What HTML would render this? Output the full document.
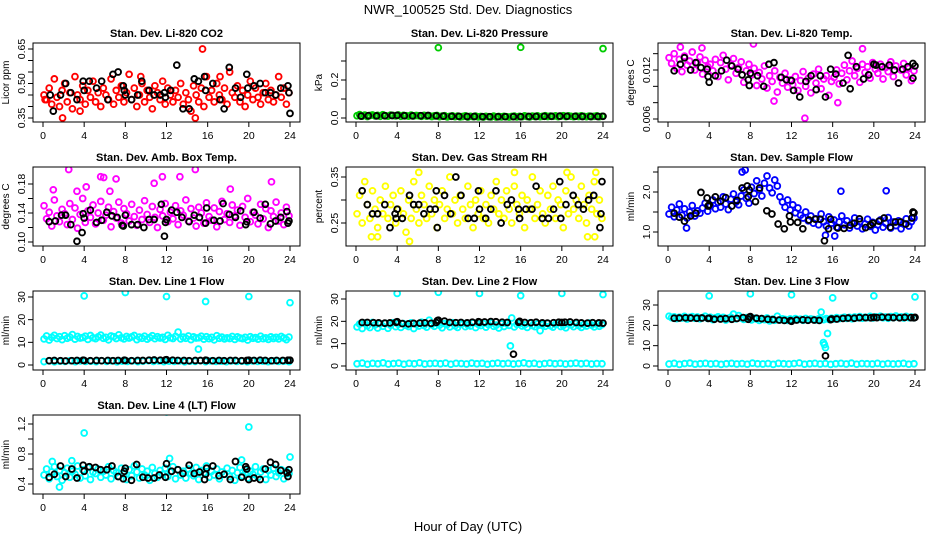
<!DOCTYPE html>
<html><head><meta charset="utf-8"><style>
html,body{margin:0;padding:0;background:#fff;}
svg{display:block;font-family:"Liberation Sans",Arial,sans-serif;}
</style></head><body>
<svg id="chart" width="936" height="540" viewBox="0 0 936 540">
<rect width="936" height="540" fill="#fff"/>
<text x="468" y="14" font-size="13" text-anchor="middle">NWR_100525  Std. Dev. Diagnostics</text>
<text x="468" y="531" font-size="13" text-anchor="middle">Hour of Day (UTC)</text>
</svg>
<script>
// ---------- data ----------
const xTicks = [0,4,8,12,16,20,24];
// CO2 (red)
const co2Vals = [0.45,0.43,0.48,0.41,0.52,0.44,0.40,0.47,0.50,0.42,0.46,0.39,0.53,0.45,0.43,0.49,0.41,0.47,0.44,0.51,0.42,0.46,0.40,0.48,0.45,0.43,0.52,0.41,0.47,0.44,0.49,0.42,0.46,0.54,0.43,0.48,0.40,0.45,0.50,0.42,0.47,0.44,0.39,0.49,0.46,0.43,0.51,0.41,0.48,0.45,0.42,0.47,0.44,0.50,0.41,0.46,0.43,0.38,0.49,0.45,0.42,0.48,0.40,0.53,0.44,0.47,0.42,0.50,0.45,0.43,0.48,0.41,0.55,0.46,0.44,0.49,0.42,0.47,0.40,0.45,0.51,0.43,0.48,0.44,0.41,0.46,0.50,0.43,0.47,0.42,0.45,0.53,0.44,0.48,0.41,0.46];
const co2OutX = [15.5,1.9,14.8,9.5,17.2,0.2,3.6];
const co2OutY = [0.65,0.35,0.35,0.53,0.53,0.43,0.38];
const co2BlkX = [0.7,1.0,1.7,2.2,2.7,3.3,3.9,4.0,4.5,5.2,5.7,6.3,6.8,7.3,7.8,7.9,8.0,8.6,9.2,9.6,10.3,10.8,11.4,11.8,11.9,12.4,13.0,13.6,14.2,14.7,15.1,15.7,15.8,16.5,17.2,17.6,18.1,18.7,19.2,19.8,19.9,20.5,21.1,21.6,22.1,22.6,23.1,23.8,23.9,24.0];
const co2BlkY = [0.45,0.38,0.45,0.50,0.46,0.43,0.51,0.47,0.51,0.48,0.51,0.43,0.54,0.55,0.49,0.47,0.45,0.43,0.45,0.51,0.47,0.45,0.45,0.46,0.44,0.47,0.58,0.39,0.39,0.52,0.51,0.53,0.47,0.50,0.43,0.39,0.57,0.48,0.44,0.54,0.48,0.49,0.50,0.46,0.46,0.45,0.48,0.49,0.46,0.37];
// Pressure (green)
const presVals = [0.012,0.018,0.010,0.015,0.008,0.013,0.016,0.011,0.014,0.009,0.017,0.012,0.010,0.015,0.013,0.011,0.016,0.009,0.014,0.012,0.010,0.015,0.011,0.013,0.012,0.009,0.014,0.010,0.012,0.008,0.011,0.013,0.007,0.010,0.012,0.006,0.009,0.011,0.007,0.010,0.006,0.008,0.011,0.005,0.009,0.007,0.010,0.006,0.008,0.005,0.009,0.007,0.006,0.010,0.005,0.008,0.006,0.009,0.007,0.005,0.008,0.010,0.006,0.009,0.007,0.011,0.008,0.006,0.010,0.008,0.011,0.007,0.009,0.012,0.008,0.010,0.009,0.011,0.007,0.010,0.012,0.008,0.011,0.009,0.007,0.010,0.008,0.011,0.009,0.007,0.010,0.008,0.009,0.011,0.007,0.009];
const presOutX = [8.0,16.0,24.0];
const presOutY = [0.37,0.372,0.365];
const presBlkX = [0.5,1.2,2.0,2.8,3.5,4.0,4.7,5.5,6.3,7.0,7.8,8.5,9.3,10.0,10.8,11.5,12.3,13.0,13.8,14.5,15.3,16.0,16.8,17.5,18.3,19.0,19.8,20.5,21.3,22.0,22.8,23.5,24.0];
const presBlkY = [0.010,0.012,0.011,0.012,0.013,0.014,0.012,0.011,0.012,0.013,0.011,0.010,0.009,0.009,0.008,0.008,0.007,0.007,0.007,0.007,0.007,0.007,0.008,0.008,0.009,0.009,0.010,0.009,0.009,0.008,0.008,0.008,0.009];
// Li-820 temp (magenta)
const tempVals = [0.0135,0.0128,0.0140,0.0122,0.0133,0.0118,0.0137,0.0126,0.0131,0.0142,0.0120,0.0129,0.0136,0.0115,0.0132,0.0124,0.0127,0.0119,0.0133,0.0112,0.0129,0.0138,0.0121,0.0108,0.0126,0.0134,0.0116,0.0123,0.0130,0.0105,0.0119,0.0127,0.0114,0.0122,0.0101,0.0117,0.0109,0.0125,0.0098,0.0113,0.0106,0.0119,0.0093,0.0111,0.0104,0.0116,0.0099,0.0108,0.0102,0.0112,0.0095,0.0107,0.0118,0.0100,0.0110,0.0092,0.0115,0.0104,0.0121,0.0097,0.0109,0.0113,0.0089,0.0106,0.0111,0.0120,0.0103,0.0116,0.0126,0.0108,0.0119,0.0131,0.0113,0.0122,0.0105,0.0127,0.0117,0.0124,0.0110,0.0129,0.0121,0.0116,0.0127,0.0109,0.0123,0.0118,0.0130,0.0112,0.0125,0.0104,0.0120,0.0128,0.0114,0.0122,0.0107,0.0119];
const tempOutX = [8.3,13.3,1.2,3.3,18.9,10.3,16.5];
const tempOutY = [0.0152,0.0061,0.0148,0.0147,0.0146,0.0082,0.0080];
const tempBlkX = [0.6,1.2,1.6,2.2,2.7,3.2,3.8,3.9,4.0,4.6,5.2,5.7,6.2,6.8,7.2,7.8,7.9,8.0,8.7,9.3,9.8,10.3,11.0,11.5,12.0,12.2,12.8,13.4,13.9,14.4,14.8,15.3,15.8,16.3,17.0,17.5,17.7,18.3,19.0,19.5,20.0,20.2,20.8,21.5,22.0,22.4,22.8,23.3,23.8,23.8,24.0];
const tempBlkY = [0.0119,0.0127,0.0135,0.0120,0.0129,0.0123,0.0121,0.0112,0.0105,0.0113,0.0119,0.0132,0.0125,0.0121,0.0114,0.0108,0.0101,0.0116,0.0113,0.0100,0.0127,0.0129,0.0111,0.0108,0.0107,0.0095,0.0087,0.0106,0.0113,0.0096,0.0113,0.0087,0.0121,0.0115,0.0104,0.0138,0.0097,0.0124,0.0109,0.0114,0.0127,0.0126,0.0124,0.0126,0.0120,0.0104,0.0121,0.0124,0.0110,0.0128,0.0125];
// Amb box temp (magenta)
const ambVals = [0.150,0.132,0.141,0.122,0.158,0.136,0.128,0.145,0.139,0.124,0.153,0.131,0.147,0.119,0.138,0.160,0.127,0.143,0.134,0.151,0.125,0.140,0.156,0.130,0.137,0.148,0.121,0.142,0.133,0.155,0.126,0.146,0.139,0.129,0.152,0.135,0.123,0.144,0.131,0.157,0.138,0.127,0.149,0.134,0.120,0.145,0.136,0.153,0.128,0.141,0.132,0.150,0.124,0.143,0.137,0.158,0.129,0.146,0.133,0.122,0.148,0.140,0.126,0.154,0.135,0.130,0.147,0.121,0.142,0.156,0.131,0.139,0.127,0.151,0.136,0.144,0.123,0.149,0.134,0.160,0.128,0.141,0.137,0.125,0.152,0.132,0.146,0.120,0.143,0.135,0.155,0.129,0.140,0.124,0.148,0.136];
const ambOutX = [2.5,5.6,5.9,7.1,11.6,13.3,14.8,18.2,22.2,1.0,3.3,6.5,10.8,4.2];
const ambOutY = [0.200,0.190,0.189,0.187,0.190,0.190,0.200,0.173,0.183,0.172,0.170,0.170,0.181,0.176];
const ambBlkX = [0.6,1.2,1.8,2.2,2.7,3.3,3.8,3.9,4.0,4.6,5.2,5.7,6.2,6.7,7.2,7.7,7.8,8.0,8.6,9.2,9.8,10.3,10.8,11.5,11.8,11.9,12.0,12.5,13.0,13.5,14.2,14.7,15.2,15.8,15.9,16.6,17.2,17.5,18.1,18.7,19.2,19.7,19.8,20.5,21.1,21.6,22.1,22.6,23.1,23.7,23.8,23.9];
const ambBlkY = [0.128,0.129,0.137,0.137,0.124,0.101,0.113,0.139,0.133,0.144,0.127,0.130,0.141,0.136,0.134,0.123,0.122,0.137,0.124,0.124,0.120,0.131,0.131,0.152,0.108,0.127,0.131,0.144,0.141,0.134,0.128,0.137,0.134,0.126,0.147,0.130,0.129,0.153,0.138,0.134,0.143,0.124,0.128,0.141,0.133,0.152,0.125,0.129,0.134,0.142,0.126,0.129];
// Gas stream RH (yellow)
const rhVals = [0.27,0.31,0.25,0.34,0.29,0.26,0.32,0.28,0.24,0.30,0.27,0.33,0.26,0.29,0.31,0.25,0.28,0.32,0.27,0.23,0.30,0.26,0.34,0.28,0.25,0.31,0.29,0.26,0.33,0.27,0.30,0.24,0.29,0.32,0.26,0.28,0.35,0.27,0.30,0.25,0.31,0.28,0.26,0.33,0.29,0.24,0.30,0.27,0.32,0.26,0.29,0.25,0.31,0.28,0.34,0.27,0.30,0.26,0.32,0.28,0.25,0.33,0.29,0.27,0.31,0.24,0.30,0.28,0.35,0.26,0.29,0.32,0.27,0.25,0.31,0.28,0.33,0.26,0.30,0.29,0.24,0.32,0.27,0.35,0.28,0.30,0.26,0.33,0.29,0.25,0.31,0.28,0.34,0.27,0.30,0.26];
const rhOutX = [5.2,1.5,2.1,15.4,20.5,23.3,6.1,22.5,23.2];
const rhOutY = [0.21,0.22,0.22,0.36,0.36,0.36,0.36,0.22,0.22];
const rhBlkX = [0.6,1.1,1.6,2.1,2.8,3.3,3.8,3.9,4.0,4.5,5.2,5.6,6.1,6.6,7.2,7.7,7.8,7.9,8.6,9.2,9.7,10.2,10.9,11.5,11.9,12.0,12.6,13.1,13.6,14.1,14.7,15.1,15.8,15.9,16.5,17.1,17.5,18.1,18.7,19.2,19.8,19.9,20.4,21.1,21.6,22.1,22.6,23.1,23.7,23.8,23.9];
const rhBlkY = [0.32,0.29,0.27,0.27,0.29,0.24,0.27,0.26,0.28,0.26,0.31,0.29,0.29,0.27,0.28,0.28,0.32,0.24,0.31,0.27,0.35,0.31,0.26,0.26,0.32,0.28,0.26,0.28,0.32,0.25,0.29,0.30,0.28,0.26,0.28,0.28,0.33,0.26,0.26,0.28,0.34,0.26,0.29,0.31,0.29,0.28,0.30,0.31,0.24,0.27,0.34];
// Sample flow (blue)
const flowVals = [1.45,1.62,1.38,1.55,1.70,1.42,1.58,1.35,1.50,1.66,1.40,1.53,1.47,1.60,1.72,1.52,1.65,1.80,1.58,1.74,1.62,1.88,1.70,1.56,1.82,1.95,1.75,1.68,1.90,2.05,1.84,1.72,2.12,1.96,2.28,2.05,1.90,2.22,2.40,2.10,1.98,2.30,2.15,1.88,1.75,1.62,1.80,1.55,1.68,1.48,1.60,1.42,1.35,1.50,1.28,1.40,1.22,1.33,1.18,1.45,1.26,1.15,1.38,1.22,1.30,1.12,1.25,1.40,1.18,1.28,1.10,1.22,1.35,1.15,1.26,1.08,1.20,1.32,1.14,1.24,1.05,1.18,1.30,1.12,1.22,1.36,1.10,1.25,1.16,1.28,1.08,1.20,1.33,1.15,1.26,1.35];
const flowOutX = [16.8,21.2,7.5,7.2,1.8,15.3,16.2];
const flowOutY = [2.02,2.03,2.55,2.50,1.10,0.92,0.90];
const flowBlkX = [0.6,1.1,1.6,2.2,2.7,3.2,3.8,3.9,4.0,4.6,5.1,5.6,6.2,6.7,7.2,7.7,7.8,7.9,8.5,8.9,9.6,10.1,10.7,11.3,11.8,11.9,12.6,13.1,13.7,14.3,14.8,15.2,15.6,15.8,16.5,17.1,17.7,18.1,18.6,19.2,19.7,19.9,20.5,21.0,21.6,22.1,22.6,23.1,23.7,23.8,23.9];
const flowBlkY = [1.47,1.37,1.27,1.40,1.47,1.99,1.85,1.65,1.68,1.88,1.77,1.86,1.65,1.79,2.10,2.15,1.88,2.05,1.76,2.10,1.53,1.45,1.20,1.08,1.40,1.25,1.24,1.08,1.30,1.32,1.32,0.78,1.08,1.32,1.10,1.09,1.17,1.22,1.33,1.11,1.18,1.22,1.27,1.35,1.12,1.25,1.25,1.20,1.35,1.50,1.48];
// Line 1 flow (cyan)
const l1Upper = [11.5,12.8,11.0,12.2,13.1,11.7,12.5,11.2,12.9,11.8,12.3,13.4,11.4,12.6,11.9,12.1,12.7,11.3,13.0,12.0,11.6,12.4,13.2,11.8,12.2,11.1,12.8,12.5,11.7,13.3,12.0,11.5,12.6,11.9,12.4,13.0,11.2,12.3,11.8,12.7,11.4,12.1,12.9,11.6,12.5,11.9,12.2,11.3,13.1,12.0,11.7,12.6,14.5,11.5,12.3,11.8,12.8,11.2,12.4,11.9,12.0,12.7,11.4,12.5,11.6,12.2,11.1,12.9,11.8,12.3,11.5,12.0,11.7,12.6,11.3,12.4,11.9,11.6,12.2,11.0,12.5,11.8,12.1,11.4,12.7,11.6,12.0,11.3,12.4,11.7,12.2,11.5,12.6,11.9,11.2,12.3];
const l1Lower = [1.5,1.8,1.4,1.7,1.6,1.9,1.5,1.8,1.6,1.7,1.5,1.9,1.6,1.8,1.4,1.7,1.6,1.8,1.5,1.7,1.9,1.6,1.8,1.5,1.7,1.6,1.8,1.4,1.7,1.6,1.9,1.5,1.8,1.6,1.7,1.5,1.8,1.6,1.7,1.4,1.8,1.6,1.7,1.5,1.8,1.6,1.7,1.5];
const l1OutX = [4.0,8.0,12.0,15.8,20.0,24.0,15.1];
const l1OutY = [30.5,32.0,30.2,28.0,30.2,27.5,7.0];
const l1BlkX = [0.6,1.1,1.7,2.2,2.8,3.3,3.9,4.0,4.6,5.2,5.7,6.3,6.8,7.3,7.9,8.0,8.6,9.2,9.7,10.3,10.8,11.4,11.9,12.0,12.6,13.1,13.7,14.2,14.8,15.3,15.8,15.9,16.5,17.1,17.6,18.2,18.7,19.3,19.8,20.0,20.5,21.1,21.6,22.2,22.7,23.3,23.8,24.0];
const l1BlkY = [1.9,2.0,1.9,1.8,1.9,2.0,2.1,2.0,1.9,2.0,1.9,2.0,1.9,2.0,2.1,2.0,1.9,2.0,2.0,2.1,2.2,2.1,2.2,2.3,2.1,2.0,2.0,1.9,2.0,2.0,2.1,2.0,1.9,2.0,1.9,2.0,2.0,1.9,2.0,2.1,2.0,2.1,2.0,1.9,2.0,2.0,2.1,2.1];
// Line 2 flow (cyan)
const l2Upper = [17.5,18.8,16.8,19.2,18.0,17.2,19.5,18.4,17.0,18.9,17.8,19.1,16.9,18.3,19.4,17.6,18.7,17.3,19.0,18.2,17.7,19.3,16.8,18.6,17.9,19.6,18.1,17.4,20.5,18.5,17.8,19.2,18.3,17.1,19.0,18.6,17.5,19.4,18.0,17.3,18.8,19.1,17.6,18.4,17.9,19.3,17.2,18.7,18.1,19.0,17.4,18.5,19.2,17.8,18.3,17.0,18.9,17.7,19.1,18.2,21.5,17.5,18.6,19.0,17.9,18.4,17.3,19.2,18.1,17.6,18.8,15.8,18.5,17.8,19.1,18.0,17.4,18.7,19.3,17.7,18.2,17.1,18.9,18.4,17.6,19.0,18.1,17.3,18.6,17.9,19.2,18.3,17.5,18.8,17.8,18.5];
const l2Lower = [1.0,1.3,0.8,1.2,1.0,1.4,0.9,1.1,1.3,0.8,1.2,1.0,1.4,0.9,1.1,1.2,1.0,1.3,0.8,1.2,1.1,0.9,1.3,1.0,1.2,0.8,1.1,1.3,1.0,1.2,0.9,1.1,1.4,1.0,1.2,0.8,1.1,1.3,1.0,1.2,0.9,1.1,1.3,1.0,1.2,0.9,1.1,1.0];
const l2OutX = [4.0,8.0,12.0,16.0,20.0,24.0,15.0];
const l2OutY = [32.5,33.0,32.5,31.5,32.5,32.0,9.0];
const l2BlkX = [0.6,1.1,1.7,2.2,2.8,3.3,3.9,4.0,4.5,5.1,5.6,6.2,6.7,7.3,7.8,7.9,8.0,8.6,9.1,9.7,10.2,10.8,11.3,11.9,12.0,12.5,13.1,13.6,14.2,14.7,15.3,15.8,15.9,16.4,17.0,17.5,18.1,18.6,19.2,19.7,20.0,20.3,20.8,21.4,21.9,22.5,23.0,23.6,24.0];
const l2BlkY = [19.5,19.5,19.4,19.3,19.2,19.3,19.6,19.8,19.0,18.9,19.1,19.2,19.3,19.1,19.5,20.3,20.5,20.1,19.5,19.4,19.5,19.3,19.6,19.8,19.6,19.7,19.9,19.8,19.6,19.5,5.3,19.6,20.0,19.5,19.4,19.6,19.3,19.2,19.4,19.6,19.5,19.6,19.7,19.5,19.3,19.2,19.4,19.3,19.2];
// Line 3 flow (cyan)
const l3Upper = [24.5,23.8,24.2,23.3,24.0,23.6,24.4,23.1,23.9,24.3,23.5,24.1,23.2,23.8,24.5,23.4,24.0,22.8,23.7,24.2,23.3,23.9,22.6,23.5,24.0,25.5,23.2,24.8,23.6,22.9,23.8,23.4,22.7,23.5,23.1,22.4,23.3,22.8,23.6,22.2,23.0,22.5,24.5,22.7,23.2,22.9,22.4,23.1,22.6,23.3,22.8,23.0,22.5,23.4,22.7,23.1,22.9,22.6,23.2,26.5,22.8,23.3,22.9,23.5,23.1,23.8,23.3,23.6,24.0,23.4,23.9,23.2,24.1,23.7,24.3,23.5,24.0,23.8,24.4,23.6,24.2,23.9,24.5,23.7,24.1,23.5,24.3,23.8,24.6,23.9,24.2,23.6,24.4,23.8,24.1,23.7];
const l3Lower = [1.0,1.3,0.8,1.2,1.4,0.9,1.1,1.3,1.0,1.2,0.8,1.1,1.3,1.0,1.2,0.9,1.4,1.1,1.0,1.2,0.8,1.3,1.1,1.0,1.2,1.5,0.9,1.1,1.3,1.0,1.2,0.8,1.1,1.3,1.0,1.4,0.9,1.2,1.1,1.0,1.3,0.9,1.2,1.0,1.1,1.3,0.9,1.1];
const l3OutX = [4.0,8.0,12.0,16.0,20.0,24.0,15.1,15.2,15.3,15.5];
const l3OutY = [34.5,35.5,35.0,33.5,34.5,34.0,11.5,10.5,9.0,16.0];
const l3BlkX = [0.6,1.1,1.7,2.2,2.8,3.3,3.9,4.0,4.5,5.1,5.6,6.2,6.7,7.3,7.8,7.9,8.0,8.6,9.1,9.7,10.2,10.8,11.3,11.9,12.0,12.5,13.1,13.6,14.2,14.7,15.3,15.8,15.9,16.4,17.0,17.5,18.1,18.6,19.2,19.7,20.0,20.3,20.8,21.4,21.9,22.5,23.0,23.6,23.9,24.0];
const l3BlkY = [23.5,23.6,23.7,23.6,23.5,23.6,23.4,23.5,23.0,23.1,23.3,23.0,23.4,23.8,23.0,24.0,24.3,23.5,23.3,23.0,22.8,22.6,22.4,22.3,22.0,22.6,22.7,22.5,22.6,22.4,5.0,22.8,23.1,23.1,23.4,23.6,23.5,23.8,23.8,23.7,23.9,23.8,24.0,23.9,23.8,23.7,23.9,23.8,23.7,23.9];
// Line 4 (LT) flow (cyan)
const l4Vals = [0.52,0.60,0.47,0.56,0.63,0.50,0.58,0.45,0.55,0.61,0.49,0.57,0.53,0.64,0.48,0.59,0.51,0.62,0.46,0.56,0.54,0.60,0.49,0.57,0.52,0.63,0.47,0.58,0.55,0.50,0.61,0.53,0.46,0.59,0.51,0.64,0.56,0.48,0.60,0.52,0.57,0.45,0.62,0.54,0.49,0.58,0.53,0.61,0.50,0.56,0.63,0.47,0.59,0.52,0.57,0.48,0.60,0.54,0.51,0.62,0.46,0.58,0.55,0.64,0.49,0.57,0.52,0.60,0.47,0.56,0.53,0.61,0.50,0.58,0.45,0.55,0.62,0.51,0.59,0.48,0.57,0.53,0.63,0.49,0.56,0.60,0.46,0.58,0.52,0.61,0.50,0.55,0.59,0.47,0.57,0.54];
const l4OutX = [4.0,12.0,20.0,24.0,1.6,0.9,2.8,12.3,19.3];
const l4OutY = [1.08,1.36,1.16,0.76,0.36,0.70,0.71,0.74,0.72];
const l4BlkX = [0.6,1.1,1.7,2.2,2.8,3.3,3.9,4.0,4.5,5.1,5.6,6.2,6.7,7.3,7.8,7.9,8.0,8.6,9.1,9.7,10.2,10.8,11.3,11.9,12.0,12.5,13.1,13.6,14.2,14.7,15.2,15.7,15.8,15.9,16.5,17.1,17.6,18.2,18.7,19.3,19.7,19.8,20.0,20.5,21.1,21.6,22.1,22.6,23.1,23.7,23.8,23.9];
const l4BlkY = [0.49,0.53,0.64,0.50,0.60,0.48,0.65,0.57,0.63,0.62,0.59,0.59,0.64,0.50,0.47,0.57,0.61,0.45,0.66,0.49,0.48,0.48,0.52,0.49,0.67,0.57,0.59,0.54,0.65,0.54,0.56,0.46,0.53,0.61,0.64,0.51,0.53,0.46,0.70,0.49,0.63,0.60,0.46,0.48,0.46,0.60,0.69,0.66,0.58,0.55,0.50,0.59];

// ---------- layout ----------
const svg = document.getElementById('chart');
const NS = 'http://www.w3.org/2000/svg';
const colX0 = [43, 356, 668];
const rowTop = [43, 167, 291, 415];
const plotH = 79;
const hourPx = 247/24;

function mk(tag, attrs, parent){
  const e = document.createElementNS(NS, tag);
  for (const k in attrs) e.setAttribute(k, attrs[k]);
  (parent||svg).appendChild(e);
  return e;
}

function evenX(n){ const a=[]; for(let i=0;i<n;i++) a.push(0.1 + i*23.8/(n-1)); return a; }

function panel(p){
  const x0 = colX0[p.col], top = rowTop[p.row], bot = top + plotH;
  const left = x0 - 10, right = x0 + 257;
  const xs = h => x0 + h*hourPx;
  const ys = v => p.p1 + (v - p.v1)*(p.p2 - p.p1)/(p.v2 - p.v1);
  const g = mk('g', {});
  
  
  const t = mk('text', {x:(left+right)/2, y: top-6, 'font-size':11, 'font-weight':'bold', 'text-anchor':'middle'}, g);
  
  
  t.textContent = p.title;
  const yl = mk('text', {transform:`translate(${left-24},${(top+bot)/2}) rotate(-90)`, 'font-size':10, 'text-anchor':'middle'}, g);
  
  
  yl.textContent = p.ylab;
  xTicks.forEach(h => {
    mk('line', {x1:xs(h), x2:xs(h), y1:bot, y2:bot+5, stroke:'#000', 'stroke-width':1}, g);
    const tl = mk('text', {x:xs(h), y:bot+17, 'font-size':10.5, 'text-anchor':'middle'}, g);
    
    
    tl.textContent = h;
  });
  p.ticks.forEach((v, i) => {
    const y = ys(v);
    mk('line', {x1:left-5, x2:left, y1:y, y2:y, stroke:'#000', 'stroke-width':1}, g);
    if (p.labels[i]) {
      const tl = mk('text', {transform:`translate(${left-8},${y}) rotate(-90)`, 'font-size':10.5, 'text-anchor':'middle'}, g);
      
      
      tl.textContent = p.labels[i];
    }
  });
  const clip = 'clip-' + p.name;
  const cp = mk('clipPath', {id: clip}, g);
  mk('rect', {x:left, y:top, width:right-left, height:plotH}, cp);
  const pg = mk('g', {'clip-path':`url(#${clip})`}, g);
  p.series.forEach(s => {
    const sx = s.xs || evenX(s.ys.length);
    const n = Math.min(sx.length, s.ys.length);
    for (let i=0;i<n;i++){
      const c = mk('circle', {cx:xs(sx[i]), cy:ys(s.ys[i]), r:2.9, fill:'none', stroke:s.color, 'stroke-width':1.9}, pg);
      
      
    }
  });
  const box = mk('rect', {x:left, y:top, width:right-left, height:plotH, fill:'none', stroke:'#000', 'stroke-width':1}, g);
  
  
}

panel({name:'co2', col:0,row:0,title:'Stan. Dev. Li-820 CO2', ylab:'Licor ppm', v1:0.35,p1:118,v2:0.65,p2:49,
  ticks:[0.35,0.40,0.45,0.50,0.55,0.60,0.65], labels:['0.35','','','0.50','','','0.65'],
  series:[{color:'#ff0000', ys:co2Vals},{color:'#ff0000', xs:co2OutX, ys:co2OutY},{color:'#000', xs:co2BlkX, ys:co2BlkY}]});
panel({name:'pressure', col:1,row:0,title:'Stan. Dev. Li-820 Pressure', ylab:'kPa', v1:0,p1:118,v2:0.2,p2:80,
  ticks:[0,0.1,0.2,0.3], labels:['0.0','','0.2',''],
  series:[{color:'#00cc00', ys:presVals},{color:'#00cc00', xs:presOutX, ys:presOutY},{color:'#000', xs:presBlkX, ys:presBlkY}]});
panel({name:'li820-temp', col:2,row:0,title:'Stan. Dev. Li-820 Temp.', ylab:'degrees C', v1:0.006,p1:119,v2:0.012,p2:70,
  ticks:[0.006,0.008,0.010,0.012,0.014], labels:['0.006','','','0.012',''],
  series:[{color:'#ff00ff', ys:tempVals},{color:'#ff00ff', xs:tempOutX, ys:tempOutY},{color:'#000', xs:tempBlkX, ys:tempBlkY}]});
panel({name:'amb-box-temp', col:0,row:1,title:'Stan. Dev. Amb. Box Temp.', ylab:'degrees C', v1:0.10,p1:242,v2:0.18,p2:184,
  ticks:[0.10,0.12,0.14,0.16,0.18], labels:['0.10','','0.14','','0.18'],
  series:[{color:'#ff00ff', ys:ambVals},{color:'#ff00ff', xs:ambOutX, ys:ambOutY},{color:'#000', xs:ambBlkX, ys:ambBlkY}]});
panel({name:'gas-rh', col:1,row:1,title:'Stan. Dev. Gas Stream RH', ylab:'percent', v1:0.25,p1:223,v2:0.35,p2:177,
  ticks:[0.25,0.30,0.35], labels:['0.25','','0.35'],
  series:[{color:'#ffff00', ys:rhVals},{color:'#ffff00', xs:rhOutX, ys:rhOutY},{color:'#000', xs:rhBlkX, ys:rhBlkY}]});
panel({name:'sample-flow', col:2,row:1,title:'Stan. Dev. Sample Flow', ylab:'ml/min', v1:1.0,p1:232,v2:2.0,p2:192,
  ticks:[1.0,1.5,2.0,2.5], labels:['1.0','','2.0',''],
  series:[{color:'#0000ff', ys:flowVals},{color:'#0000ff', xs:flowOutX, ys:flowOutY},{color:'#000', xs:flowBlkX, ys:flowBlkY}]});
panel({name:'line1-flow', col:0,row:2,title:'Stan. Dev. Line 1 Flow', ylab:'ml/min', v1:0,p1:365,v2:30,p2:297,
  ticks:[0,10,20,30], labels:['0','10','20','30'],
  series:[{color:'#00ffff', ys:l1Upper},{color:'#00ffff', ys:l1Lower},{color:'#00ffff', xs:l1OutX, ys:l1OutY},{color:'#000', xs:l1BlkX, ys:l1BlkY}]});
panel({name:'line2-flow', col:1,row:2,title:'Stan. Dev. Line 2 Flow', ylab:'ml/min', v1:0,p1:366,v2:30,p2:299,
  ticks:[0,10,20,30], labels:['0','10','20','30'],
  series:[{color:'#00ffff', ys:l2Upper},{color:'#00ffff', ys:l2Lower},{color:'#00ffff', xs:l2OutX, ys:l2OutY},{color:'#000', xs:l2BlkX, ys:l2BlkY}]});
panel({name:'line3-flow', col:2,row:2,title:'Stan. Dev. Line 3 Flow', ylab:'ml/min', v1:0,p1:366,v2:30,p2:305,
  ticks:[0,10,20,30], labels:['0','10','20','30'],
  series:[{color:'#00ffff', ys:l3Upper},{color:'#00ffff', ys:l3Lower},{color:'#00ffff', xs:l3OutX, ys:l3OutY},{color:'#000', xs:l3BlkX, ys:l3BlkY}]});
panel({name:'line4-flow', col:0,row:3,title:'Stan. Dev. Line 4 (LT) Flow', ylab:'ml/min', v1:0.4,p1:484,v2:1.2,p2:424,
  ticks:[0.4,0.6,0.8,1.0,1.2], labels:['0.4','','0.8','','1.2'],
  series:[{color:'#00ffff', ys:l4Vals},{color:'#00ffff', xs:l4OutX, ys:l4OutY},{color:'#000', xs:l4BlkX, ys:l4BlkY}]});
</script>
</body></html>
